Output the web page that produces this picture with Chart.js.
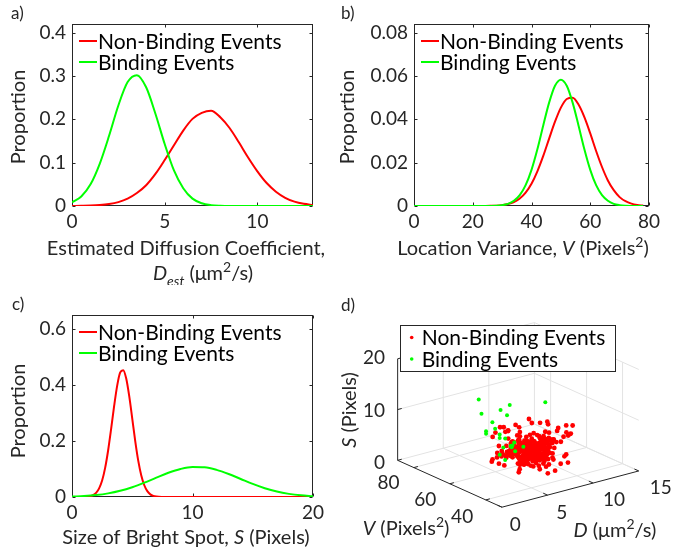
<!DOCTYPE html>
<html>
<head>
<meta charset="utf-8">
<title>Binding vs non-binding events</title>
<script src="https://cdn.jsdelivr.net/npm/chart.js@4.4.1/dist/chart.umd.min.js"></script>
<style>
  body { margin: 0; background: #fff; }
  #fig { position: relative; width: 689px; height: 550px; overflow: hidden; background: #fff; }
  #fig canvas { position: absolute; }
</style>
</head>
<body>
<div id="fig">
  <canvas id="chartA" width="340" height="285" style="left:0;top:0"></canvas>
  <canvas id="chartB" width="354" height="285" style="left:335px;top:0"></canvas>
  <canvas id="chartC" width="340" height="270" style="left:0;top:280px"></canvas>
  <canvas id="chartD" width="354" height="270" style="left:335px;top:280px"></canvas>
</div>
<script>
const FONT = 'Lato, "Open Sans", sans-serif'
const INK = '#262626'
const RED = '#ff0000'
const GREEN = '#00ff00'
const seriesNames = ['Non-Binding Events', 'Binding Events']

// a) estimated diffusion coefficient (um^2/s)
const xA = [0, 0.5, 1, 1.5, 2, 2.5, 3, 3.5, 4, 4.5, 5, 5.5, 6, 6.5, 7, 7.5, 8, 8.5, 9, 9.5, 10, 10.5, 11, 11.5, 12, 12.5, 13]
const nonBindA = [0.0001, 0.0004, 0.0009, 0.0021, 0.0045, 0.009, 0.017, 0.030, 0.048, 0.074, 0.106, 0.140, 0.174, 0.201, 0.215, 0.220, 0.205, 0.180, 0.147, 0.112, 0.080, 0.053, 0.033, 0.019, 0.010, 0.005, 0.0024]
const bindA = [0.0085, 0.022, 0.050, 0.098, 0.162, 0.232, 0.286, 0.302, 0.274, 0.213, 0.143, 0.082, 0.041, 0.017, 0.0063, 0.002, 0.0005, 0, 0, 0, 0, 0, 0, 0, 0, 0, 0]
const xTicksA = [0, 5, 10]
const yTicksA = [0, 0.1, 0.2, 0.3, 0.4]

// b) location variance (pixels^2)
const xB = [0, 2, 4, 6, 8, 10, 12, 14, 16, 18, 20, 22, 24, 26, 28, 30, 32, 34, 36, 38, 40, 42, 44, 46, 48, 50, 52, 54, 56, 58, 60, 62, 64, 66, 68, 70, 72, 74, 76, 78]
const nonBindB = [0, 0, 0, 0, 0, 0, 0, 0, 0, 0, 0, 0, 0.00002, 0.00006, 0.00016, 0.0004, 0.0009, 0.0018, 0.0035, 0.0062, 0.0103, 0.0160, 0.0231, 0.0311, 0.0389, 0.0454, 0.0494, 0.0500, 0.0468, 0.0410, 0.0335, 0.0254, 0.0180, 0.0118, 0.0073, 0.0041, 0.0022, 0.0011, 0.0005, 0.0002]
const bindB = [0, 0, 0, 0, 0, 0, 0, 0, 0, 0, 0, 0, 0, 0.00004, 0.00014, 0.0004, 0.0010, 0.0024, 0.0050, 0.0096, 0.0167, 0.0262, 0.0372, 0.0477, 0.0555, 0.0583, 0.0555, 0.0477, 0.0372, 0.0262, 0.0167, 0.0096, 0.0050, 0.0024, 0.0010, 0.0004, 0.00014, 0.00004, 0, 0]
const xTicksB = [0, 20, 40, 60, 80]
const yTicksB = [0, 0.02, 0.04, 0.06, 0.08]

// c) size of bright spot (pixels)
const xCNonBind = [0, 0.5, 1, 1.5, 1.75, 2, 2.25, 2.5, 2.75, 3, 3.25, 3.5, 3.75, 4, 4.25, 4.5, 4.75, 5, 5.25, 5.5, 5.75, 6, 6.25, 6.5, 6.75, 7, 7.5, 8, 9, 10, 11, 12, 13, 14, 15, 16, 17, 18, 19, 20]
const nonBindC = [0, 0, 0.0003, 0.0026, 0.0064, 0.0148, 0.031, 0.059, 0.104, 0.167, 0.244, 0.326, 0.398, 0.445, 0.453, 0.423, 0.360, 0.280, 0.199, 0.129, 0.077, 0.042, 0.021, 0.0094, 0.0039, 0.0015, 0.0002, 0, 0, 0, 0, 0, 0, 0, 0, 0, 0, 0, 0, 0]
const xCBind = [0, 1, 2, 3, 4, 5, 6, 7, 8, 9, 10, 11, 12, 13, 14, 15, 16, 17, 18, 19, 20]
const bindC = [0.0016, 0.0035, 0.0070, 0.0130, 0.0222, 0.0350, 0.0511, 0.0691, 0.0864, 0.0999, 0.1069, 0.1059, 0.0969, 0.0821, 0.0644, 0.0467, 0.0313, 0.0194, 0.0112, 0.0059, 0.0029]
const xTicksC = [0, 10, 20]
const yTicksC = [0, 0.2, 0.4, 0.6]

// d) events in (D, V, S) space
const nonBindD = [
  7.1, 6.4, 8.2, 5.7, 7.8, 6.9, 8.8, 6.1, 7.4, 9.2,  5.9, 7.6, 8.5, 6.7, 7.0, 9.7, 6.3, 8.0, 5.4, 7.3,
  8.6, 6.0, 7.9, 6.6, 9.0, 5.6, 7.2, 8.3, 6.8, 7.7,  6.2, 8.9, 7.5, 5.8, 8.1, 6.5, 9.4, 7.0, 6.0, 8.4,
  7.3, 5.5, 8.7, 6.9, 7.6, 10.1, 6.4, 7.9, 5.2, 8.2,  9.8, 6.8, 7.1, 8.0, 5.9, 7.4, 8.6, 6.2, 9.1, 7.7,
  6.6, 8.3, 5.6, 7.2, 9.5, 6.1, 7.8, 8.8, 6.9, 7.5,  10.4, 5.0, 8.1, 6.4, 7.0, 9.3, 5.8, 8.5, 7.6, 6.7,
  4.4, 10.9, 4.0, 10.5, 4.8, 11.3, 4.2, 10.2, 5.0, 11.6,  5.2, 9.9, 4.6, 10.7, 3.8, 10.0, 5.4, 11.1, 4.3, 9.6,
  7.2, 6.3, 8.4, 5.7, 7.9, 6.7, 8.9, 6.0, 7.5, 8.2,  6.5, 7.8, 5.5, 8.7, 7.1, 9.0, 6.2, 7.4, 8.0, 6.8,
  11.4, 3.9, 10.4, 4.7, 11.0, 5.1, 10.1, 4.1, 9.4, 11.8,  7.0, 8.1, 6.6, 7.7, 5.9, 8.6, 6.4, 7.3, 9.2, 6.9,
  7.3, 11.5, 8.6, 4.0, 10.2,
  7.0, 7.5, 6.5, 8.0, 7.2, 6.8, 7.8, 6.3, 8.3, 7.4,  6.9, 7.7, 7.1, 6.4, 8.1, 7.3, 6.6, 7.9, 7.0, 8.4,
  7.6, 6.2, 7.2, 8.6, 6.7, 7.4, 8.0, 6.5, 7.8, 7.1,  5.4, 9.1, 6.0, 8.7, 5.7, 9.3, 6.1, 8.9, 5.5, 9.6,
  6.8, 7.3, 7.9, 6.4, 8.2, 7.0, 6.6, 7.6, 8.5, 6.1,  7.5, 6.9, 8.3, 7.2, 6.3, 7.7, 8.8, 6.7, 7.4, 8.0,
  6.7, 7.2, 7.9, 6.1, 8.4, 7.0, 6.5, 7.6, 8.1, 6.9,  7.4, 6.6, 8.0, 7.1, 5.8, 7.8, 6.3, 8.6, 7.3, 6.8,
  8.2, 7.0, 6.4, 7.7, 6.9, 8.5, 7.2, 6.0, 7.5, 8.0,  6.2, 7.9, 7.3, 6.6, 8.3, 7.1, 5.9, 7.6, 6.8, 8.8,
  7.7, 6.5, 8.1, 7.0, 6.3, 7.4, 8.6, 6.9, 7.2, 6.1,  7.0, 8.2, 6.7, 7.5, 6.0, 7.8, 7.1, 8.4, 6.4, 7.3,
  6.9, 7.6, 8.0, 6.2, 7.3, 8.7, 6.6, 7.1, 7.9, 6.8,  8.1, 6.4, 7.2, 7.8, 6.9, 7.5, 6.1, 8.3, 7.0, 7.7,
  5.6, 9.0, 6.2, 8.8, 5.9, 9.4, 6.5, 8.5, 5.3, 9.1,  7.4, 6.8, 7.9, 6.3, 8.2, 7.1, 6.6, 7.7, 8.5, 7.0
]
const nonBindV = [
  53, 50, 56, 48, 55, 52, 58, 47, 54, 57,  51, 49, 55, 57, 46, 54, 53, 60, 50, 52,
  48, 56, 51, 54, 50, 59, 47, 53, 55, 49,  57, 52, 45, 53, 49, 61, 55, 51, 44, 56,
  50, 54, 47, 58, 52, 55, 49, 46, 57, 53,  52, 45, 59, 50, 56, 48, 54, 60, 51, 47,
  55, 51, 62, 49, 53, 46, 57, 50, 43, 54,  56, 53, 48, 52, 63, 51, 58, 45, 55, 50,
  52, 55, 49, 58, 61, 50, 54, 47, 44, 53,  48, 60, 56, 51, 53, 45, 62, 57, 50, 49,
  42, 64, 50, 46, 60, 55, 52, 58, 48, 65,  54, 41, 57, 49, 66, 51, 59, 44, 62, 53,
  51, 56, 49, 60, 54, 47, 57, 52, 46, 55,  58, 48, 53, 44, 55, 61, 49, 56, 52, 47,
  53, 50, 58, 49, 47,
  52, 55, 49, 51, 57, 54, 48, 53, 56, 50,  47, 53, 58, 55, 50, 46, 52, 57, 54, 49,
  51, 56, 48, 53, 59, 45, 55, 50, 47, 58,  53, 49, 56, 52, 50, 57, 46, 55, 59, 51,
  60, 44, 52, 49, 55, 58, 51, 47, 53, 56,  45, 57, 50, 62, 53, 48, 55, 44, 59, 52,
  50, 54, 47, 56, 52, 49, 58, 51, 46, 55,  53, 48, 57, 50, 55, 46, 52, 59, 49, 54,
  47, 56, 51, 53, 45, 58, 50, 55, 52, 48,  55, 49, 53, 46, 57, 51, 48, 60, 54, 50,
  51, 57, 48, 54, 50, 56, 46, 53, 58, 49,  56, 50, 53, 47, 55, 52, 59, 49, 51, 57,
  48, 54, 51, 57, 46, 53, 55, 50, 47, 56,  52, 47, 58, 50, 54, 49, 56, 45, 53, 51,
  51, 55, 48, 53, 57, 50, 52, 56, 49, 54,  54, 46, 52, 58, 49, 55, 51, 47, 57, 53
]
const nonBindS = [
  4.6, 3.5, 5.6, 3.0, 5.1, 2.8, 6.1, 4.0, 3.3, 5.5,  5.0, 6.0, 3.0, 4.2, 5.4, 6.4, 2.6, 3.9, 4.8, 2.9,
  3.9, 5.2, 2.4, 5.9, 4.5, 3.3, 6.6, 3.7, 5.3, 2.7,  5.7, 3.0, 4.9, 4.2, 6.3, 2.3, 4.3, 5.5, 3.1, 5.0,
  2.9, 5.4, 6.0, 3.7, 2.6, 4.7, 5.7, 4.2, 3.8, 6.8,  5.2, 2.7, 4.1, 6.2, 3.3, 5.0, 2.1, 4.5, 5.9, 3.7,
  4.3, 6.5, 3.1, 5.5, 3.9, 2.9, 6.0, 5.2, 4.9, 2.5,  3.7, 4.5, 6.9, 3.3, 5.1, 5.7, 2.7, 5.4, 4.1, 6.4,
  2.8, 6.6, 5.4, 3.8, 1.9, 6.1, 6.4, 3.0, 4.0, 5.1,  1.7, 7.3, 2.4, 5.6, 4.5, 1.8, 7.2, 3.4, 5.8, 7.6,
  1.5, 7.5, 2.1, 7.3, 1.6, 7.8, 2.3, 8.0, 1.2, 6.9,  7.2, 1.9, 8.1, 1.4, 6.8, 2.0, 7.6, 2.4, 7.0, 1.7,
  5.8, 3.6, 2.2, 7.0, 4.0, 2.5, 7.9, 4.7, 1.7, 5.3,  2.4, 8.3, 2.0, 7.9, 3.2, 1.5, 6.6, 1.2, 8.6, 2.9,
  10.4, 7.6, 8.2, 5.3, 8.7,
  4.2, 3.6, 4.9, 5.6, 3.9, 3.2, 5.3, 4.5, 3.0, 6.0,  5.5, 4.0, 3.4, 4.7, 5.8, 3.7, 2.9, 5.1, 6.1, 3.8,
  3.2, 5.3, 5.7, 4.3, 3.5, 6.2, 3.8, 2.8, 4.9, 5.5,  4.8, 3.4, 5.9, 3.9, 2.6, 5.0, 6.3, 3.1, 4.0, 5.6,
  3.6, 5.8, 4.4, 2.6, 5.3, 6.5, 3.0, 3.8, 4.3, 6.1,  4.9, 2.7, 5.5, 3.4, 6.2, 4.1, 2.4, 6.6, 3.7, 4.7,
  4.0, 4.8, 3.3, 5.6, 4.4, 2.9, 5.2, 3.6, 6.0, 4.1,  3.5, 5.4, 4.6, 2.7, 5.0, 4.2, 3.1, 5.7, 3.9, 4.9,
  5.3, 3.8, 4.4, 3.0, 5.9, 4.6, 3.4, 5.1, 2.8, 4.3,  4.7, 3.2, 5.8, 4.0, 3.6, 6.3, 4.4, 2.6, 5.0, 3.9,
  3.0, 5.5, 4.1, 4.9, 3.3, 5.2, 2.9, 4.5, 5.6, 3.7,  5.1, 2.8, 4.7, 3.6, 5.4, 4.0, 3.2, 6.1, 4.3, 3.4,
  4.4, 3.7, 5.0, 3.1, 5.7, 4.2, 2.7, 4.8, 3.5, 5.3,  3.9, 5.9, 3.4, 4.6, 2.9, 5.1, 4.3, 3.6, 6.2, 4.0,
  4.5, 3.5, 5.4, 2.5, 4.1, 5.8, 3.8, 4.9, 3.2, 6.0,  2.6, 4.3, 3.9, 5.2, 3.3, 4.7, 5.6, 2.4, 4.0, 5.0
]
const bindD = [1.2, 1.7, 2.5, 3.0, 2.4, 3.2, 4.6, 4.5, 8.5, 3.3, 2.0, 4.3, 4.5, 5.1, 5.2, 5.0, 3.9, 3.7, 4.1, 3.3, 4.7, 5.7]
const bindV = [50, 51, 49, 50, 52, 48, 50, 51, 50, 49, 50, 51, 48, 50, 52, 49, 50, 51, 50, 49, 50, 48]
const bindS = [17.6, 14.4, 12.7, 11.0, 10.0, 14.9, 14.9, 12.8, 13.6, 9.9, 11.0, 8.3, 7.3, 7.3, 6.0, 5.8, 6.9, 5.4, 4.3, 9.2, 6.8, 6.5]
const dTicksD = [0, 5, 10, 15]
const vTicksD = [40, 60, 80]
const sTicksD = [0, 10, 20]
const D_LIM = [0, 15]
const V_LIM = [31, 89]
const S_LIM = [0, 20]

Chart.defaults.font.family = FONT
Chart.defaults.color = INK

// text with italic / sub / superscript pieces
function richText(ctx, parts, x, y, size, align) {
  const fontOf = p => (p.it ? 'italic ' : '') + Math.round(p.sub || p.sup ? size * 0.68 : size) + 'px ' + FONT
  let w = 0
  const widths = parts.map(p => { ctx.font = fontOf(p); const m = ctx.measureText(p.t).width; w += m; return m })
  let cx = align === 'center' ? x - w / 2 : align === 'right' ? x - w : x
  ctx.textAlign = 'left'
  ctx.textBaseline = 'alphabetic'
  parts.forEach((p, i) => {
    ctx.font = fontOf(p)
    const dy = p.sub ? size * 0.3 : p.sup ? -size * 0.42 : 0
    ctx.fillText(p.t, cx, y + dy)
    cx += widths[i]
  })
}

// page-coordinate decorations for each panel
const decor = {
  chartA: {
    origin: [0, 0],
    label: { t: 'a)', x: 11, y: 19 },
    yTitle: { x: 19.5, y: 117 },
    xTitle: [
      { x: 186, y: 255, parts: [{ t: 'Estimated Diffusion Coefficient,' }] },
      { x: 203, y: 280, parts: [{ t: 'D', it: 1 }, { t: 'est', it: 1, sub: 1 }, { t: ' (μm' }, { t: '2', sup: 1 }, { t: '/s)' }] }
    ]
  },
  chartB: {
    origin: [335, 0],
    label: { t: 'b)', x: 341, y: 19 },
    yTitle: { x: 349, y: 117 },
    xTitle: [
      { x: 523, y: 255, parts: [{ t: 'Location Variance, ' }, { t: 'V', it: 1 }, { t: ' (Pixels' }, { t: '2', sup: 1 }, { t: ')' }] }
    ]
  },
  chartC: {
    origin: [0, 280],
    label: { t: 'c)', x: 12, y: 310 },
    yTitle: { x: 19.5, y: 411 },
    xTitle: [
      { x: 186, y: 544, parts: [{ t: 'Size of Bright Spot, ' }, { t: 'S', it: 1 }, { t: ' (Pixels)' }] }
    ]
  }
}

const matlabAxes = {
  id: 'matlabAxes',
  beforeDatasetsDraw(chart) {
    const { ctx, chartArea: a, scales } = chart
    const L = Math.round(a.left) + 0.5, R = Math.round(a.right) - 0.5
    const T = Math.round(a.top) + 0.5, B = Math.round(a.bottom) - 0.5
    ctx.save()
    ctx.strokeStyle = INK
    ctx.lineWidth = 1
    ctx.strokeRect(L, T, R - L, B - T)
    ctx.beginPath()
    scales.x.ticks.forEach(t => {
      const px = Math.round(scales.x.getPixelForValue(t.value)) + 0.5
      ctx.moveTo(px, B); ctx.lineTo(px, B - 3)
      ctx.moveTo(px, T); ctx.lineTo(px, T + 3)
    })
    scales.y.ticks.forEach(t => {
      const py = Math.round(scales.y.getPixelForValue(t.value)) + 0.5
      ctx.moveTo(L, py); ctx.lineTo(L + 3, py)
      ctx.moveTo(R, py); ctx.lineTo(R - 3, py)
    })
    ctx.stroke()
    ctx.restore()
  },
  afterDatasetsDraw(chart) {
    const { ctx, chartArea: a } = chart
    ctx.save()
    chart.data.datasets.forEach((d, i) => {
      const y = a.top + 17 + i * 21
      ctx.strokeStyle = d.borderColor
      ctx.lineWidth = 2
      ctx.beginPath(); ctx.moveTo(a.left + 7, y); ctx.lineTo(a.left + 25, y); ctx.stroke()
      ctx.fillStyle = '#000'
      ctx.font = '21px ' + FONT
      ctx.textAlign = 'left'
      ctx.textBaseline = 'middle'
      ctx.fillText(d.label, a.left + 26, y + 1)
    })
    ctx.restore()
  },
  afterDraw(chart) {
    const dc = decor[chart.canvas.id]
    if (!dc) return
    const { ctx } = chart
    const [ox, oy] = dc.origin
    ctx.save()
    ctx.fillStyle = INK
    richText(ctx, [{ t: dc.label.t }], dc.label.x - ox, dc.label.y - oy, 17, 'left')
    ctx.save()
    ctx.translate(dc.yTitle.x - ox, dc.yTitle.y - oy)
    ctx.rotate(-Math.PI / 2)
    richText(ctx, [{ t: 'Proportion' }], 0, 5, 20, 'center')
    ctx.restore()
    dc.xTitle.forEach(l => richText(ctx, l.parts, l.x - ox, l.y - oy, 20, 'center'))
    ctx.restore()
  }
}

function curvePanel(id, o) {
  const toPts = (xs, ys) => xs.map((x, i) => ({ x, y: ys[i] }))
  new Chart(document.getElementById(id), {
    type: 'line',
    data: {
      datasets: [
        { label: seriesNames[0], data: toPts(o.xRed, o.red), borderColor: RED, order: 1 },
        { label: seriesNames[1], data: toPts(o.xGreen, o.green), borderColor: GREEN, order: 0 }
      ]
    },
    options: {
      responsive: false,
      animation: false,
      events: [],
      layout: { padding: { top: o.padTop, right: o.padRight, bottom: 0, left: 0 } },
      elements: {
        line: { borderWidth: 2, cubicInterpolationMode: 'monotone', fill: false },
        point: { radius: 0 }
      },
      plugins: { legend: { display: false }, tooltip: { enabled: false } },
      scales: {
        x: {
          type: 'linear', min: o.xMax[0], max: o.xMax[1],
          afterBuildTicks: s => { s.ticks = o.xTicks.map(v => ({ value: v })) },
          afterFit: s => { s.height = o.xHeight },
          grid: { display: false, drawTicks: false },
          border: { display: false },
          ticks: { padding: 4, autoSkip: false, maxRotation: 0, color: INK, font: { size: 19 }, callback: v => String(v) }
        },
        y: {
          type: 'linear', min: 0, max: o.yMax,
          afterBuildTicks: s => { s.ticks = o.yTicks.map(v => ({ value: v })) },
          afterFit: s => { s.width = o.yWidth },
          grid: { display: false, drawTicks: false },
          border: { display: false },
          ticks: { padding: 6, autoSkip: false, color: INK, font: { size: 19 }, callback: v => String(v) }
        }
      }
    },
    plugins: [matlabAxes]
  })
}

curvePanel('chartA', {
  xRed: xA, red: nonBindA, xGreen: xA, green: bindA,
  xMax: [0, 13], yMax: 0.42, xTicks: xTicksA, yTicks: yTicksA,
  padTop: 24, padRight: 27, yWidth: 72, xHeight: 79
})
curvePanel('chartB', {
  xRed: xB, red: nonBindB, xGreen: xB, green: bindB,
  xMax: [0, 80], yMax: 0.084, xTicks: xTicksB, yTicks: yTicksB,
  padTop: 24, padRight: 40, yWidth: 79, xHeight: 79
})
curvePanel('chartC', {
  xRed: xCNonBind, red: nonBindC, xGreen: xCBind, green: bindC,
  xMax: [0, 20], yMax: 0.65, xTicks: xTicksC, yTicks: yTicksC,
  padTop: 35, padRight: 27, yWidth: 72, xHeight: 53
})

// ---- panel d: fixed 3-D view projected onto the canvas ----
const VIEW = { ox: 60, oy: 181.7, dx: 9.33, dy: -2.49, vx: 1.84, vy: 0.833, sz: 5.23 }
function proj(d, v, s) {
  const back = V_LIM[1] - v
  return { x: VIEW.ox + d * VIEW.dx + back * VIEW.vx, y: VIEW.oy + d * VIEW.dy + back * VIEW.vy - s * VIEW.sz }
}
const GAP = { x: null, y: null }
function segments(list) {
  const out = []
  list.forEach(([a, b]) => out.push(proj(...a), proj(...b), GAP))
  return out
}
const [D0, D1] = D_LIM, [V0, V1] = V_LIM, [S0, S1] = S_LIM
const gridSegs = []
dTicksD.filter(d => d > D0).forEach(d => gridSegs.push([[d, V0, S0], [d, V1, S0]], [[d, V1, S0], [d, V1, S1]]))
vTicksD.forEach(v => gridSegs.push([[D0, v, S0], [D1, v, S0]], [[D1, v, S0], [D1, v, S1]]))
sTicksD.forEach(s => gridSegs.push([[D0, V1, s], [D1, V1, s]], [[D1, V1, s], [D1, V0, s]]))
const axisSegs = [
  [[D0, V1, S0], [D0, V1, S1]],
  [[D0, V1, S0], [D0, V0, S0]],
  [[D0, V0, S0], [D1, V0, S0]]
]
sTicksD.forEach(s => axisSegs.push([[D0, V1, s], [D0 + 0.45, V1, s]]))
vTicksD.forEach(v => axisSegs.push([[D0, v, S0], [D0 + 0.45, v, S0]]))
dTicksD.forEach(d => axisSegs.push([[d, V0, S0], [d, V0 + 2.4, S0]]))

const cloud = (D, V, S) => D.map((d, i) => proj(d, V[i], S[i]))

const scatterDecor = {
  id: 'scatterDecor',
  afterDatasetsDraw(chart) {
    const { ctx } = chart
    ctx.save()
    // legend box
    ctx.fillStyle = '#fff'
    ctx.fillRect(65.5, 45.5, 215, 46)
    ctx.strokeStyle = INK
    ctx.lineWidth = 1
    ctx.strokeRect(65.5, 45.5, 215, 46)
    seriesNames.forEach((name, i) => {
      const d = chart.data.datasets.find(ds => ds.label === name)
      const y = 57.5 + i * 21.5
      ctx.fillStyle = d.backgroundColor
      ctx.beginPath(); ctx.arc(76.7, y, 1.8, 0, Math.PI * 2); ctx.fill()
      ctx.fillStyle = '#000'
      ctx.font = '21px ' + FONT
      ctx.textAlign = 'left'
      ctx.textBaseline = 'middle'
      ctx.fillText(name, 86.7, y + 1)
    })
    ctx.restore()
  },
  afterDraw(chart) {
    const { ctx } = chart
    ctx.save()
    ctx.fillStyle = INK
    ctx.font = '19px ' + FONT
    ctx.textBaseline = 'middle'
    ctx.textAlign = 'right'
    sTicksD.forEach(s => { const p = proj(D0, V1, s); ctx.fillText(String(s), p.x - 10, p.y + 1) })
    vTicksD.forEach(v => { const p = proj(D0, v, S0); ctx.fillText(String(v), p.x - 12, p.y + 14) })
    ctx.textAlign = 'left'
    dTicksD.forEach(d => { const p = proj(d, V0, S0); ctx.fillText(String(d), p.x + 8, p.y + 15) })
    richText(ctx, [{ t: 'd)' }], 6, 31, 17, 'left')
    richText(ctx, [{ t: 'V', it: 1 }, { t: ' (Pixels' }, { t: '2', sup: 1 }, { t: ')' }], 71, 255, 20, 'center')
    richText(ctx, [{ t: 'D', it: 1 }, { t: ' (μm' }, { t: '2', sup: 1 }, { t: '/s)' }], 280, 257, 20, 'center')
    ctx.translate(15, 130)
    ctx.rotate(-Math.PI / 2)
    richText(ctx, [{ t: 'S', it: 1 }, { t: ' (Pixels)' }], 0, 6, 20, 'center')
    ctx.restore()
  }
}

new Chart(document.getElementById('chartD'), {
  type: 'scatter',
  data: {
    datasets: [
      { label: seriesNames[1], data: cloud(bindD, bindV, bindS), backgroundColor: GREEN, pointRadius: 2, order: 0 },
      { label: seriesNames[0], data: cloud(nonBindD, nonBindV, nonBindS), backgroundColor: RED, pointRadius: 2.4, order: 1 },
      { data: segments(axisSegs), showLine: true, borderColor: INK, borderWidth: 1, pointRadius: 0, order: 2 },
      { data: segments(gridSegs), showLine: true, borderColor: '#e3e3e3', borderWidth: 1, pointRadius: 0, order: 3 }
    ].map(d => Object.assign({ pointBorderWidth: 0, clip: false, spanGaps: false }, d))
  },
  options: {
    responsive: false,
    animation: false,
    events: [],
    layout: { padding: 0 },
    plugins: { legend: { display: false }, tooltip: { enabled: false } },
    scales: {
      x: { type: 'linear', min: 0, max: 354, display: false },
      y: { type: 'linear', min: 0, max: 270, reverse: true, display: false }
    }
  },
  plugins: [scatterDecor]
})
</script>
</body>
</html>
